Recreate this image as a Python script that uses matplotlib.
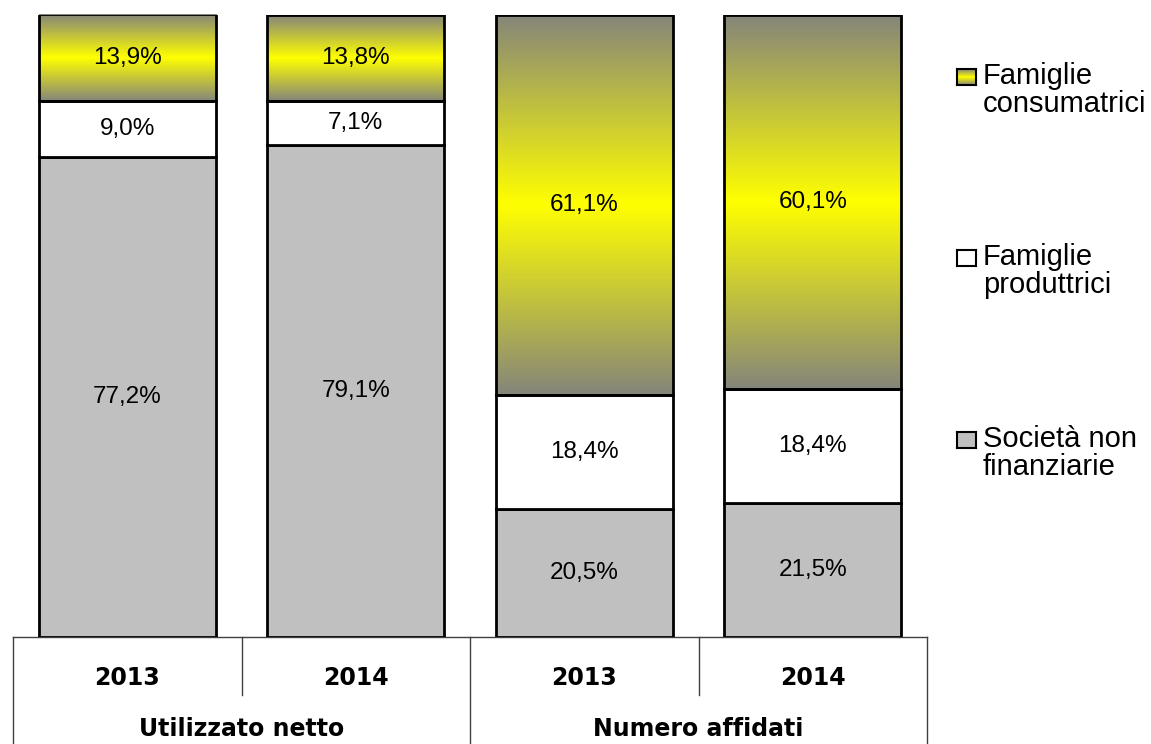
import numpy as np
import matplotlib.pyplot as plt
from matplotlib.colors import LinearSegmentedColormap

plt.rcParams['font.family'] = ['Liberation Sans', 'DejaVu Sans']

# data
groups = ['Utilizzato netto', 'Numero affidati']
years = ['2013', '2014', '2013', '2014']
societa = [77.2, 79.1, 20.5, 21.5]
produttrici = [9.0, 7.1, 18.4, 18.4]
consumatrici = [13.9, 13.8, 61.1, 60.1]
legend_names = ['Famiglie\nconsumatrici', 'Famiglie\nproduttrici', 'Società non\nfinanziarie']

W, H = 1151, 744
fig = plt.figure(figsize=(W / 100, H / 100), dpi=100)
ax = fig.add_axes([13 / W, (H - 637) / H, (927 - 13) / W, (637 - 15) / H])

grad_cmap = LinearSegmentedColormap.from_list('yg', ['#85857a', '#ffff00', '#85857a'])
grad = np.linspace(0, 1, 256).reshape(-1, 1)

x = np.arange(len(years))
bw = 0.775
bot2 = np.array(societa)
bot3 = bot2 + np.array(produttrici)

b1 = ax.bar(x, societa, bw, color='#c0c0c0', edgecolor='black', lw=2, zorder=3)
b2 = ax.bar(x, produttrici, bw, bottom=bot2, color='white', edgecolor='black', lw=2, zorder=3)
b3 = ax.bar(x, consumatrici, bw, bottom=bot3, color='none', edgecolor='black', lw=2, zorder=4)

# gradient fill of the top segments
for rect in b3:
    im = ax.imshow(grad, cmap=grad_cmap, aspect='auto', zorder=2, interpolation='bilinear',
                   extent=[rect.get_x(), rect.get_x() + rect.get_width(),
                           rect.get_y(), rect.get_y() + rect.get_height()])
    im.set_clip_path(rect)

def fmt(v):
    return f'{v:.1f}'.replace('.', ',') + '%'

for bars, vals in [(b1, societa), (b2, produttrici), (b3, consumatrici)]:
    for rect, v in zip(bars, vals):
        ax.text(rect.get_x() + rect.get_width() / 2, rect.get_y() + rect.get_height() / 2,
                fmt(v), ha='center', va='center', fontsize=17.5, zorder=5)

ax.set_xlim(-0.5, 3.5)
ax.set_ylim(0, 100)
ax.axis('off')

# table under the bars
tr = ax.get_xaxis_transform()
line_c = '#404040'
ax.plot([-0.5, 3.5], [0, 0], transform=tr, color=line_c, lw=1, clip_on=False, zorder=1)
for xv in [-0.5, 1.5, 3.5]:
    ax.plot([xv, xv], [0, -0.2], transform=tr, color=line_c, lw=1, clip_on=False)
for xv in [0.5, 2.5]:
    ax.plot([xv, xv], [0, -0.093], transform=tr, color=line_c, lw=1, clip_on=False)
for xi, yr in zip(x, years):
    ax.text(xi, -0.066, yr, transform=tr, ha='center', va='center', fontsize=17,
            fontweight='bold', family='DejaVu Sans')
for gi, g in enumerate(groups):
    ax.text(gi * 2 + 0.5, -0.148, g, transform=tr, ha='center', va='center', fontsize=17,
            fontweight='bold', family='DejaVu Sans')

# legend, drawn by hand
baselines = [84, 265, 447]
faces = ['grad', 'white', '#c0c0c0']
for name, base, face in zip(legend_names, baselines, faces):
    lax = fig.add_axes([957 / W, 1 - (base + 1) / H, 19 / W, 16 / H])
    if face == 'grad':
        lax.imshow(grad, cmap=grad_cmap, aspect='auto', extent=[0, 1, 0, 1])
    else:
        lax.set_facecolor(face)
    lax.set_xticks([])
    lax.set_yticks([])
    for s in lax.spines.values():
        s.set_linewidth(1.5)
        s.set_color('black')
    for k, line in enumerate(name.split('\n')):
        fig.text(983 / W, 1 - (base + 28 * k) / H, line, fontsize=21, va='baseline', ha='left')

fig.savefig('out.png', dpi=100)
